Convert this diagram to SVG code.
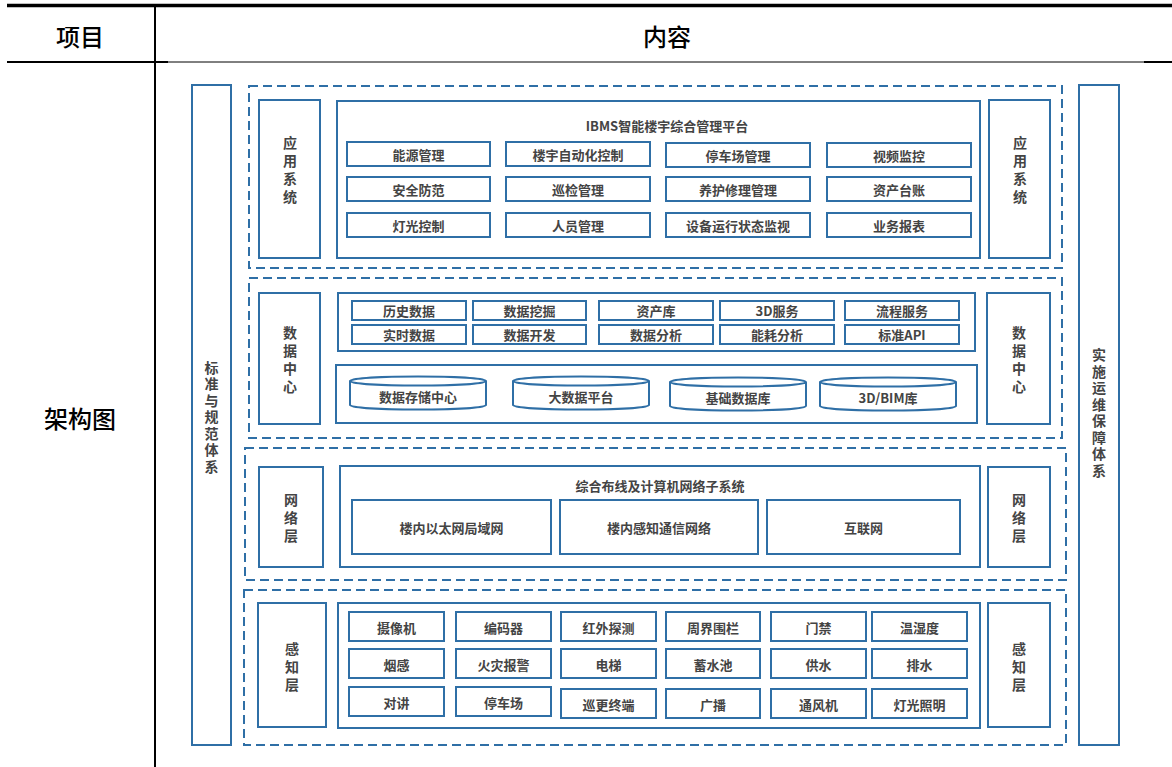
<svg xmlns="http://www.w3.org/2000/svg" width="1172" height="767" viewBox="0 0 1172 767">
<style>
.tbl{stroke:#000;fill:none}
.hd{font-family:"Noto Sans CJK SC","Liberation Sans",sans-serif;font-size:24px;font-weight:500;fill:#000;text-anchor:middle;dominant-baseline:central}
.dash{fill:none;stroke:#2f6fa6;stroke-width:2;stroke-dasharray:9 5}
.box{fill:#fff;stroke:#2f6fa6;stroke-width:2}
.it{fill:#fff;stroke:#2f6fa6;stroke-width:2}
.t{font-family:"Noto Sans CJK SC","Liberation Sans",sans-serif;font-size:13px;font-weight:bold;fill:#444;text-anchor:middle;dominant-baseline:central}
.v{font-family:"Noto Sans CJK SC","Liberation Sans",sans-serif;font-size:14px;font-weight:bold;fill:#444;text-anchor:middle;writing-mode:vertical-rl}
.v7{letter-spacing:2.5px}
.v4{letter-spacing:4px}
</style>
<rect width="1172" height="767" fill="#fff"/>
<g id="table">
<line class="tbl" x1="7" y1="5.5" x2="1172" y2="5.5" stroke-width="3.5"/>
<line class="tbl" x1="7" y1="62" x2="168" y2="62" stroke-width="2"/>
<line class="tbl" x1="168" y1="62" x2="1144" y2="62" stroke-width="1"/>
<line class="tbl" x1="1144" y1="62" x2="1172" y2="62" stroke-width="2"/>
<line class="tbl" x1="155" y1="7" x2="155" y2="767" stroke-width="2"/>
<text class="hd" x="80" y="35">项目</text>
<text class="hd" x="667" y="35">内容</text>
<text class="hd" x="80" y="417">架构图</text>
</g>
<g id="standards">
<rect class="box" x="192" y="85" width="39" height="660"/>
<text class="v v7" x="211.5" y="418">标准与规范体系</text>
</g>
<g id="ops">
<rect class="box" x="1079" y="85" width="40" height="660"/>
<text class="v v7" x="1099" y="414">实施运维保障体系</text>
</g>
<g id="app-layer">
<rect class="dash" x="249" y="86" width="813" height="182"/>
<rect class="box" x="259" y="100" width="61" height="158"/>
<text class="v v4" x="290" y="172">应用系统</text>
<rect class="box" x="989" y="100" width="61" height="158"/>
<text class="v v4" x="1020" y="172">应用系统</text>
<rect class="box" x="337" y="101" width="643" height="157"/>
<text class="t" x="667" y="125">IBMS智能楼宇综合管理平台</text>
<g>
<rect class="it" x="347" y="142" width="143" height="24"/><text class="t" x="418.5" y="154">能源管理</text>
<rect class="it" x="506" y="142" width="144" height="24"/><text class="t" x="578" y="154">楼宇自动化控制</text>
<rect class="it" x="666" y="143" width="144" height="24"/><text class="t" x="738" y="155">停车场管理</text>
<rect class="it" x="827" y="143" width="144" height="24"/><text class="t" x="899" y="155">视频监控</text>
<rect class="it" x="347" y="177" width="143" height="24"/><text class="t" x="418.5" y="189">安全防范</text>
<rect class="it" x="506" y="177" width="144" height="24"/><text class="t" x="578" y="189">巡检管理</text>
<rect class="it" x="666" y="177" width="144" height="24"/><text class="t" x="738" y="189">养护修理管理</text>
<rect class="it" x="827" y="177" width="144" height="24"/><text class="t" x="899" y="189">资产台账</text>
<rect class="it" x="347" y="213" width="143" height="24"/><text class="t" x="418.5" y="225">灯光控制</text>
<rect class="it" x="506" y="213" width="144" height="24"/><text class="t" x="578" y="225">人员管理</text>
<rect class="it" x="666" y="213" width="144" height="24"/><text class="t" x="738" y="225">设备运行状态监视</text>
<rect class="it" x="827" y="213" width="144" height="24"/><text class="t" x="899" y="225">业务报表</text>
</g>
</g>
<g id="data-layer">
<rect class="dash" x="249" y="278" width="813" height="160"/>
<rect class="box" x="259" y="293" width="61" height="131"/>
<text class="v v4" x="290" y="362">数据中心</text>
<rect class="box" x="987" y="293" width="63" height="131"/>
<text class="v v4" x="1019" y="362">数据中心</text>
<rect class="box" x="338" y="293" width="637" height="58"/>
<g>
<rect class="it" x="352" y="301" width="114" height="19"/><text class="t" x="409" y="310.5">历史数据</text>
<rect class="it" x="473" y="301" width="113" height="19"/><text class="t" x="529.5" y="310.5">数据挖掘</text>
<rect class="it" x="599" y="301" width="114" height="19"/><text class="t" x="656" y="310.5">资产库</text>
<rect class="it" x="720" y="301" width="114" height="19"/><text class="t" x="777" y="310.5">3D服务</text>
<rect class="it" x="845" y="301" width="114" height="19"/><text class="t" x="902" y="310.5">流程服务</text>
<rect class="it" x="352" y="325" width="114" height="19"/><text class="t" x="409" y="334.5">实时数据</text>
<rect class="it" x="473" y="325" width="113" height="19"/><text class="t" x="529.5" y="334.5">数据开发</text>
<rect class="it" x="599" y="325" width="114" height="19"/><text class="t" x="656" y="334.5">数据分析</text>
<rect class="it" x="720" y="325" width="114" height="19"/><text class="t" x="777" y="334.5">能耗分析</text>
<rect class="it" x="845" y="325" width="114" height="19"/><text class="t" x="902" y="334.5">标准API</text>
</g>
<rect class="box" x="336" y="365" width="641" height="58"/>
<g>
<path class="it" d="M350,381 A68,4.5 0 0 1 486,381 V405 A68,4.5 0 0 1 350,405 Z M350,381 A68,4.5 0 0 0 486,381"/><text class="t" x="418" y="396">数据存储中心</text>
<path class="it" d="M513,381 A68,4.5 0 0 1 649,381 V405 A68,4.5 0 0 1 513,405 Z M513,381 A68,4.5 0 0 0 649,381"/><text class="t" x="581" y="396">大数据平台</text>
<path class="it" d="M670,382 A68,4.5 0 0 1 806,382 V406 A68,4.5 0 0 1 670,406 Z M670,382 A68,4.5 0 0 0 806,382"/><text class="t" x="738" y="397">基础数据库</text>
<path class="it" d="M820,382 A68,4.5 0 0 1 956,382 V406 A68,4.5 0 0 1 820,406 Z M820,382 A68,4.5 0 0 0 956,382"/><text class="t" x="888" y="397">3D/BIM库</text>
</g>
</g>
<g id="network-layer">
<rect class="dash" x="245" y="448" width="821" height="132"/>
<rect class="box" x="259" y="467" width="64" height="100"/>
<text class="v v4" x="291" y="520">网络层</text>
<rect class="box" x="988" y="467" width="62" height="100"/>
<text class="v v4" x="1019" y="520">网络层</text>
<rect class="box" x="340" y="466" width="640" height="101"/>
<text class="t" x="660" y="485">综合布线及计算机网络子系统</text>
<rect class="it" x="352" y="500" width="199" height="54"/><text class="t" x="451.5" y="527">楼内以太网局域网</text>
<rect class="it" x="560" y="500" width="198" height="54"/><text class="t" x="659" y="527">楼内感知通信网络</text>
<rect class="it" x="767" y="500" width="193" height="54"/><text class="t" x="863.5" y="527">互联网</text>
</g>
<g id="perception-layer">
<rect class="dash" x="244" y="590" width="822" height="155"/>
<rect class="box" x="258" y="603" width="68" height="124"/>
<text class="v v4" x="292" y="669">感知层</text>
<rect class="box" x="988" y="603" width="62" height="124"/>
<text class="v v4" x="1019" y="669">感知层</text>
<rect class="box" x="338" y="603" width="642" height="125"/>
<g>
<rect class="it" x="349" y="612" width="95" height="29"/><text class="t" x="396.5" y="627">摄像机</text>
<rect class="it" x="456" y="612" width="95" height="29"/><text class="t" x="503.5" y="627">编码器</text>
<rect class="it" x="561" y="612" width="95" height="29"/><text class="t" x="608.5" y="627">红外探测</text>
<rect class="it" x="666" y="612" width="94" height="29"/><text class="t" x="713" y="627">周界围栏</text>
<rect class="it" x="771" y="612" width="95" height="29"/><text class="t" x="818.5" y="627">门禁</text>
<rect class="it" x="872" y="612" width="95" height="29"/><text class="t" x="919.5" y="627">温湿度</text>
<rect class="it" x="349" y="649" width="95" height="29"/><text class="t" x="396.5" y="664">烟感</text>
<rect class="it" x="456" y="649" width="95" height="29"/><text class="t" x="503.5" y="664">火灾报警</text>
<rect class="it" x="561" y="649" width="95" height="29"/><text class="t" x="608.5" y="664">电梯</text>
<rect class="it" x="666" y="649" width="94" height="29"/><text class="t" x="713" y="664">蓄水池</text>
<rect class="it" x="771" y="649" width="95" height="29"/><text class="t" x="818.5" y="664">供水</text>
<rect class="it" x="872" y="649" width="95" height="29"/><text class="t" x="919.5" y="664">排水</text>
<rect class="it" x="349" y="687" width="95" height="29"/><text class="t" x="396.5" y="702">对讲</text>
<rect class="it" x="456" y="687" width="95" height="29"/><text class="t" x="503.5" y="702">停车场</text>
<rect class="it" x="561" y="689" width="95" height="29"/><text class="t" x="608.5" y="704">巡更终端</text>
<rect class="it" x="666" y="689" width="94" height="29"/><text class="t" x="713" y="704">广播</text>
<rect class="it" x="771" y="689" width="95" height="29"/><text class="t" x="818.5" y="704">通风机</text>
<rect class="it" x="872" y="689" width="95" height="29"/><text class="t" x="919.5" y="704">灯光照明</text>
</g>
</g>
</svg>
